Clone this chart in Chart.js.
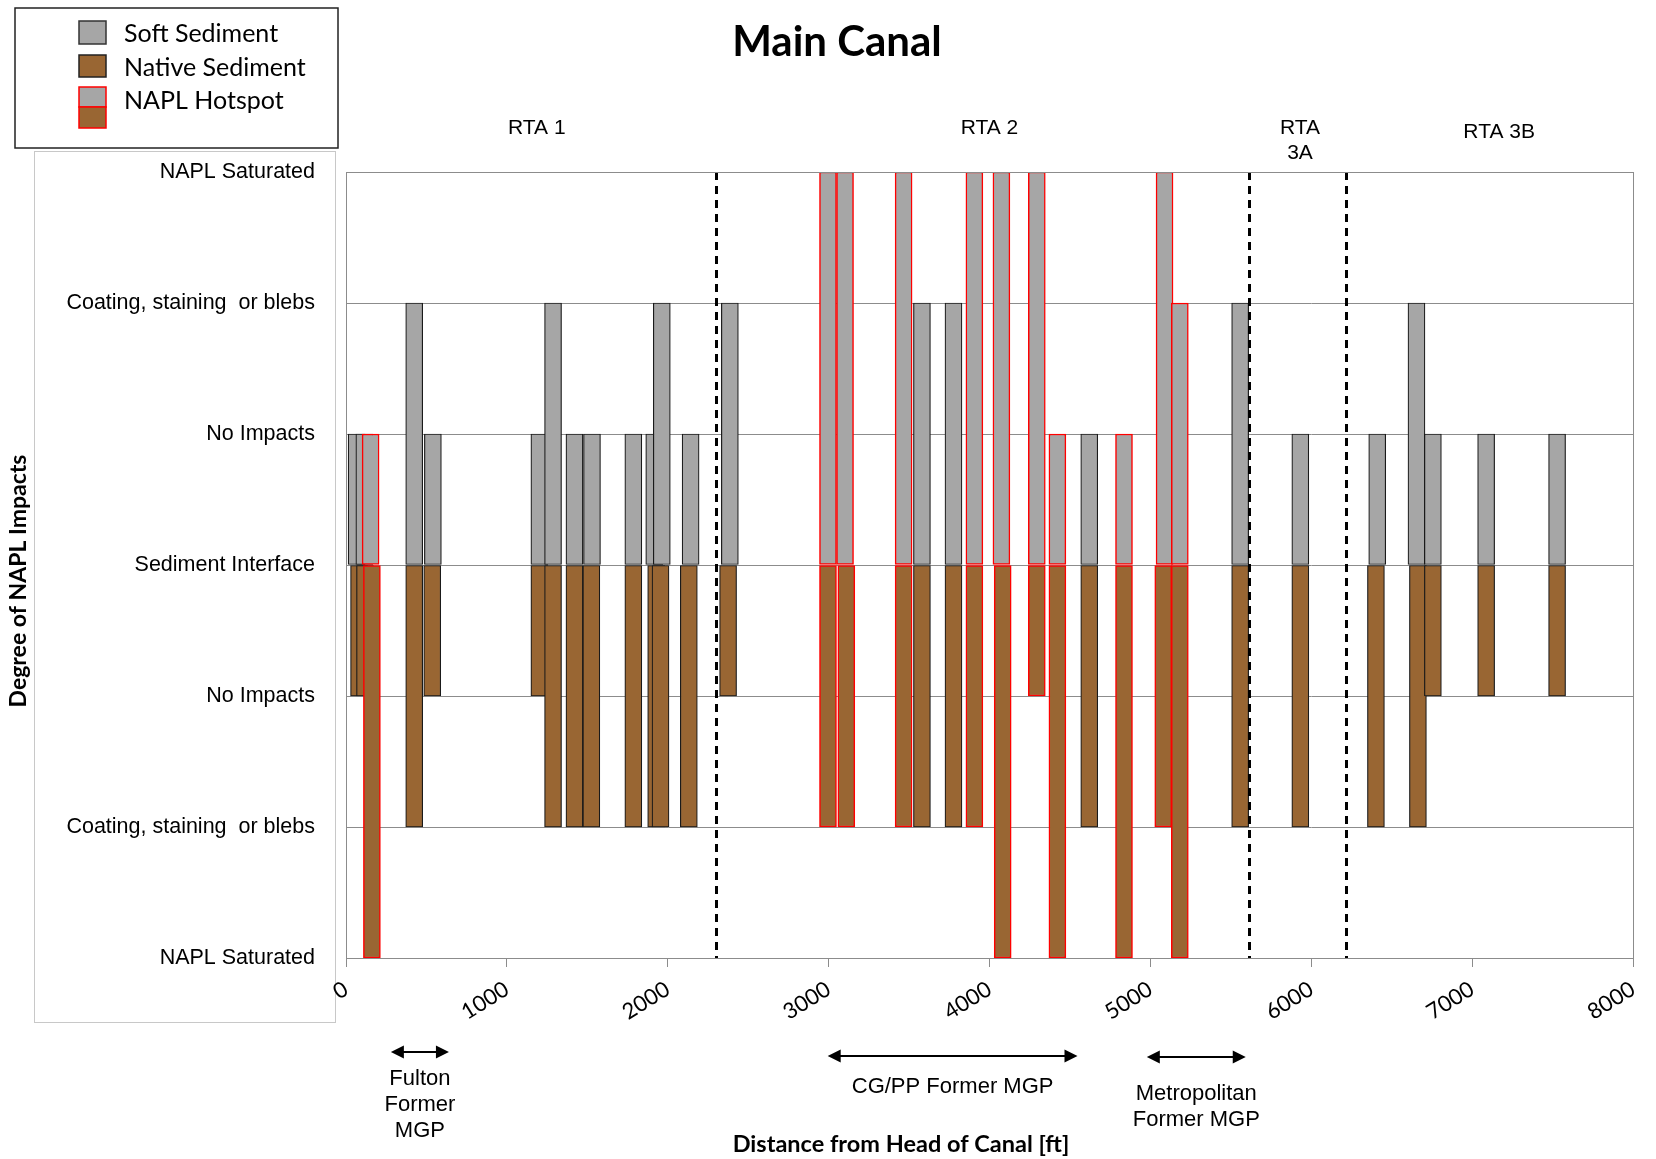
<!DOCTYPE html>
<html>
<head>
<meta charset="utf-8">
<title>Main Canal</title>
<script src="https://cdn.jsdelivr.net/npm/chart.js@4.4.1/dist/chart.umd.min.js"></script>
<style>
  html, body { margin: 0; padding: 0; background: #fff; }
  #wrap { width: 1656px; height: 1159px; position: relative; }
</style>
</head>
<body>
<div id="wrap"><canvas id="mainCanal"></canvas></div>
<script>
// soft sediment: distance from head of canal (ft), level above interface, hotspot flag
const softDistance = [66, 114, 153, 424, 540, 1202, 1287, 1420, 1529, 1786, 1916, 1963, 2142, 2386,
    2996, 3102, 3466, 3580, 3776, 3906, 4074, 4294, 4422, 4620, 4836, 5088, 5183,
    5558, 5932, 6410, 6654, 6756, 7087, 7528];
const softLevel = [1, 1, 1, 2, 1, 1, 2, 1, 1, 1, 1, 2, 1, 2,
    3, 3, 3, 2, 2, 3, 3, 3, 1, 1, 1, 3, 2,
    2, 1, 1, 2, 1, 1, 1];
const softHotspot = [0, 0, 1, 0, 0, 0, 0, 0, 0, 0, 0, 0, 0, 0,
    1, 1, 1, 0, 0, 1, 1, 1, 1, 0, 1, 1, 1,
    0, 0, 0, 0, 0, 0, 0];

// native sediment: distance (ft), level below interface, hotspot flag
const nativeDistance = [81, 118, 161, 424, 536, 1202, 1287, 1420, 1525, 1786, 1928, 1955, 2131, 2375,
    2996, 3110, 3466, 3580, 3776, 3906, 4082, 4294, 4422, 4620, 4836, 5080, 5183,
    5558, 5932, 6402, 6663, 6756, 7087, 7528];
const nativeLevel = [-1, -1, -3, -2, -1, -1, -2, -2, -2, -2, -2, -2, -2, -1,
    -2, -2, -2, -2, -2, -2, -3, -1, -3, -2, -3, -2, -3,
    -2, -2, -2, -2, -1, -1, -1];
const nativeHotspot = [0, 0, 1, 0, 0, 0, 0, 0, 0, 0, 0, 0, 0, 0,
    1, 1, 1, 0, 0, 1, 1, 1, 1, 0, 1, 1, 1,
    0, 0, 0, 0, 0, 0, 0];

// y tick labels from -3 (bottom) to 3 (top)
const levelLabels = ['NAPL Saturated', 'Coating, staining  or blebs', 'No Impacts', 'Sediment Interface',
    'No Impacts', 'Coating, staining  or blebs', 'NAPL Saturated'];

// RTA boundaries and labels (ft)
const rtaBoundaries = [2301, 5616, 6216];
const rtaNames = [['RTA 1'], ['RTA 2'], ['RTA', '3A'], ['RTA 3B']];
const rtaNameAt = [1186, 4000, 5930, 7168];

// former MGP sites (ft)
const mgpNames = [['Fulton', 'Former', 'MGP'], ['CG/PP Former MGP'], ['Metropolitan', 'Former MGP']];
const mgpStart = [279, 2994, 4978];
const mgpEnd = [640, 4547, 5593];

const GREY = '#a6a6a6';
const BROWN = '#996633';
const EDGE = '#1a1a1a';
const RED = '#ff0000';

function points(xs, ys) {
    return xs.map((x, i) => ({ x: x, y: ys[i] }));
}

function arrow(ctx, x1, x2, y) {
    ctx.beginPath();
    ctx.moveTo(x1 + 10, y);
    ctx.lineTo(x2 - 10, y);
    ctx.stroke();
    ctx.beginPath();
    ctx.moveTo(x1, y); ctx.lineTo(x1 + 13, y - 6.5); ctx.lineTo(x1 + 13, y + 6.5); ctx.closePath();
    ctx.fill();
    ctx.beginPath();
    ctx.moveTo(x2, y); ctx.lineTo(x2 - 13, y - 6.5); ctx.lineTo(x2 - 13, y + 6.5); ctx.closePath();
    ctx.fill();
}

const overlay = {
    id: 'overlay',
    beforeDraw(chart) {
        const ctx = chart.ctx;
        ctx.save();
        ctx.fillStyle = '#fff';
        ctx.fillRect(0, 0, chart.width, chart.height);
        // box behind the y labels
        ctx.strokeStyle = '#c8c8c8';
        ctx.lineWidth = 1;
        ctx.strokeRect(34.5, 151.5, 301, 871);
        ctx.restore();
    },
    afterDatasetsDraw(chart) {
        const ctx = chart.ctx;
        const area = chart.chartArea;
        const xs = chart.scales.x;
        ctx.save();
        // dashed RTA boundaries
        ctx.strokeStyle = '#000';
        ctx.lineWidth = 3;
        ctx.setLineDash([8, 6]);
        rtaBoundaries.forEach(d => {
            const px = Math.round(xs.getPixelForValue(d)) + 0.5;
            ctx.beginPath();
            ctx.moveTo(px, area.top);
            ctx.lineTo(px, area.bottom);
            ctx.stroke();
        });
        ctx.setLineDash([]);
        // plot border
        ctx.strokeStyle = '#8c8c8c';
        ctx.lineWidth = 1;
        ctx.strokeRect(area.left + 0.5, area.top + 0.5, area.right - area.left, area.bottom - area.top);
        ctx.restore();
    },
    afterDraw(chart) {
        const ctx = chart.ctx;
        const area = chart.chartArea;
        const xs = chart.scales.x;
        ctx.save();

        // title
        ctx.fillStyle = '#000';
        ctx.textAlign = 'center';
        ctx.textBaseline = 'middle';
        ctx.font = 'bold 42px Lato';
        ctx.fillText('Main Canal', 837, 42);

        // RTA labels
        ctx.font = '21px "Liberation Sans"';
        rtaNames.forEach((lines, i) => {
            const px = xs.getPixelForValue(rtaNameAt[i]);
            const y0 = i === 3 ? area.top - 40 : area.top - 44;
            lines.forEach((t, j) => ctx.fillText(t, px, y0 + j * 25));
        });

        // former MGP arrows
        const arrowY = [94, 98, 99];
        const textY = [121, 129, 136];
        ctx.font = '22px "Liberation Sans"';
        ctx.strokeStyle = '#000';
        ctx.lineWidth = 2;
        mgpNames.forEach((lines, i) => {
            const a = xs.getPixelForValue(mgpStart[i]);
            const b = xs.getPixelForValue(mgpEnd[i]);
            arrow(ctx, a, b, area.bottom + arrowY[i]);
            lines.forEach((t, j) => ctx.fillText(t, (a + b) / 2, area.bottom + textY[i] + j * 26));
        });

        // axis titles
        ctx.font = 'bold 23.5px Lato';
        ctx.fillText('Distance from Head of Canal [ft]', 901, 1144);
        ctx.save();
        ctx.translate(19, 581);
        ctx.rotate(-Math.PI / 2);
        ctx.font = 'bold 23px Lato';
        ctx.fillText('Degree of NAPL Impacts', 0, 0);
        ctx.restore();

        // legend
        ctx.fillStyle = '#fff';
        ctx.fillRect(15, 8, 323, 140);
        ctx.strokeStyle = '#222';
        ctx.lineWidth = 1.5;
        ctx.strokeRect(15, 8, 323, 140);
        const sw = (x, y, w, h, fill, edge) => {
            ctx.fillStyle = fill;
            ctx.fillRect(x, y, w, h);
            ctx.strokeStyle = edge;
            ctx.lineWidth = 1.5;
            ctx.strokeRect(x, y, w, h);
        };
        sw(79, 21, 27, 23, GREY, '#333');
        sw(79, 55, 27, 22, BROWN, '#222');
        sw(79, 87, 27, 20, GREY, RED);
        sw(79, 107, 27, 21, BROWN, RED);
        ctx.fillStyle = '#000';
        ctx.textAlign = 'left';
        ctx.font = '25px Lato';
        ctx.fillText(chart.data.datasets[0].label, 124, 34);
        ctx.fillText(chart.data.datasets[1].label, 124, 68);
        ctx.fillText('NAPL Hotspot', 124, 101);

        ctx.restore();
    }
};

const ctx = document.getElementById('mainCanal').getContext('2d');
const mainCanalChart = new Chart(ctx, {
    type: 'bar',
    data: {
        datasets: [
            {
                label: 'Soft Sediment',
                data: points(softDistance, softLevel),
                backgroundColor: GREY,
                borderColor: softHotspot.map(h => h ? RED : EDGE),
                borderWidth: softHotspot.map(h => h ? 1.5 : 1.2),
                borderSkipped: false,
                barThickness: 17,
                grouped: false
            },
            {
                label: 'Native Sediment',
                data: points(nativeDistance, nativeLevel),
                backgroundColor: BROWN,
                borderColor: nativeHotspot.map(h => h ? RED : EDGE),
                borderWidth: nativeHotspot.map(h => h ? 1.5 : 1.2),
                borderSkipped: false,
                barThickness: 17,
                grouped: false
            }
        ]
    },
    options: {
        responsive: true,
        maintainAspectRatio: false,
        animation: false,
        layout: { padding: { left: 0, right: 22, top: 172, bottom: 0 } },
        plugins: {
            legend: { display: false },
            tooltip: { enabled: false },
            title: { display: false }
        },
        scales: {
            x: {
                type: 'linear',
                min: 0,
                max: 8000,
                offset: false,
                afterFit(scale) { scale.height = 201; },
                ticks: {
                    stepSize: 1000,
                    autoSkip: false,
                    minRotation: 32,
                    maxRotation: 32,
                    padding: 9,
                    color: '#000',
                    font: { family: 'Lato', size: 22 },
                    callback: v => String(v)
                },
                grid: { drawOnChartArea: false, offset: false, tickLength: 9, color: '#8c8c8c' },
                border: { color: '#8c8c8c' }
            },
            y: {
                min: -3,
                max: 3,
                afterFit(scale) { scale.width = 346; },
                ticks: {
                    stepSize: 1,
                    padding: 31,
                    color: '#000',
                    font: { family: 'Liberation Sans', size: 21.5 },
                    callback: v => levelLabels[v + 3]
                },
                grid: { color: '#8c8c8c', drawTicks: false },
                border: { color: '#8c8c8c' }
            }
        }
    },
    plugins: [overlay]
});
</script>
</body>
</html>
